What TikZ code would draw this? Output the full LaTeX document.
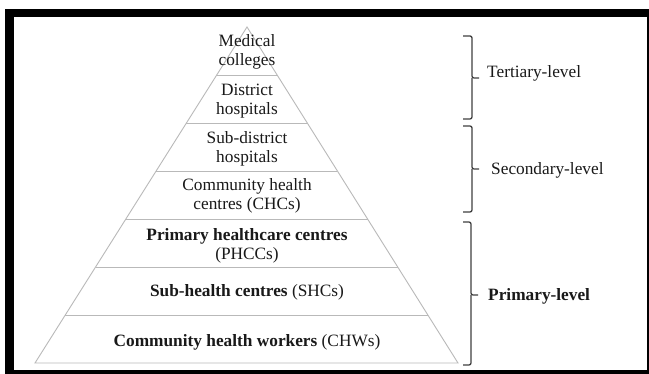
\documentclass[tikz,border=0pt]{standalone}
\usepackage{fontspec}
\setmainfont{Liberation Serif}
\usetikzlibrary{calc}

\begin{document}
\begin{tikzpicture}[x=1pt,y=-1pt,
  band/.style={draw=gray!55,line width=0.9pt},
  level/.style={align=center,text=black!90,inner sep=0pt,font=\fontsize{17.3}{18.8}\selectfont},
  brace/.style={draw=black!75,line width=1.3pt,rounded corners=2pt},
  tier/.style={anchor=base west,inner sep=0pt,text=black!90,font=\fontsize{17.3}{18.8}\selectfont}]
\useasboundingbox (0,0) rectangle (649,374);
% frame
\fill[black] (5,9) rectangle (648.5,374);
\fill[white] (14,17.5) rectangle (647,370);
% pyramid
\coordinate (A) at (247,27);
\coordinate (BL) at (35,363);
\coordinate (BR) at (458,363);
\draw[band] (BL)--(A)--(BR)--cycle;
\foreach \k in {1,...,6}
  \draw[band] ($(A)!\k/7!(BL)$)--($(A)!\k/7!(BR)$);
\node[level] (MC) at (247,52) {Medical\\colleges};
\node[level] (DH) at (247,101) {District\\hospitals};
\node[level] (SDH) at (247,149) {Sub-district\\hospitals};
\node[level] (CHC) at (247,196) {Community health\\centres (CHCs)};
\node[level] (PHCC) at (247,246) {\textbf{Primary healthcare centres}\\(PHCCs)};
\node[level] (SHC) at (247,292) {\textbf{Sub-health centres} (SHCs)};
\node[level] (CHW) at (247,342) {\textbf{Community health workers} (CHWs)};
% braces
\coordinate (TT) at (463,36);
\coordinate (TB) at (463,119);
\coordinate (TM) at (472,78);
\draw[brace] (TT) -| (TM) -- ++(7,0);
\draw[brace] (TB) -| (TM);
\node[tier] (TL) at (487,78) {Tertiary-level};
\coordinate (ST) at (463,126);
\coordinate (SB) at (463,212);
\coordinate (SM) at (472,169);
\draw[brace] (ST) -| (SM) -- ++(7,0);
\draw[brace] (SB) -| (SM);
\node[tier] (SL) at (491,175) {Secondary-level};
\coordinate (PT) at (463,222);
\coordinate (PB) at (463,365);
\coordinate (PM) at (471,295);
\draw[brace] (PT) -| (PM) -- ++(7,0);
\draw[brace] (PB) -| (PM);
\node[tier] (PL) at (488,301) {\textbf{Primary-level}};
\end{tikzpicture}
\end{document}
